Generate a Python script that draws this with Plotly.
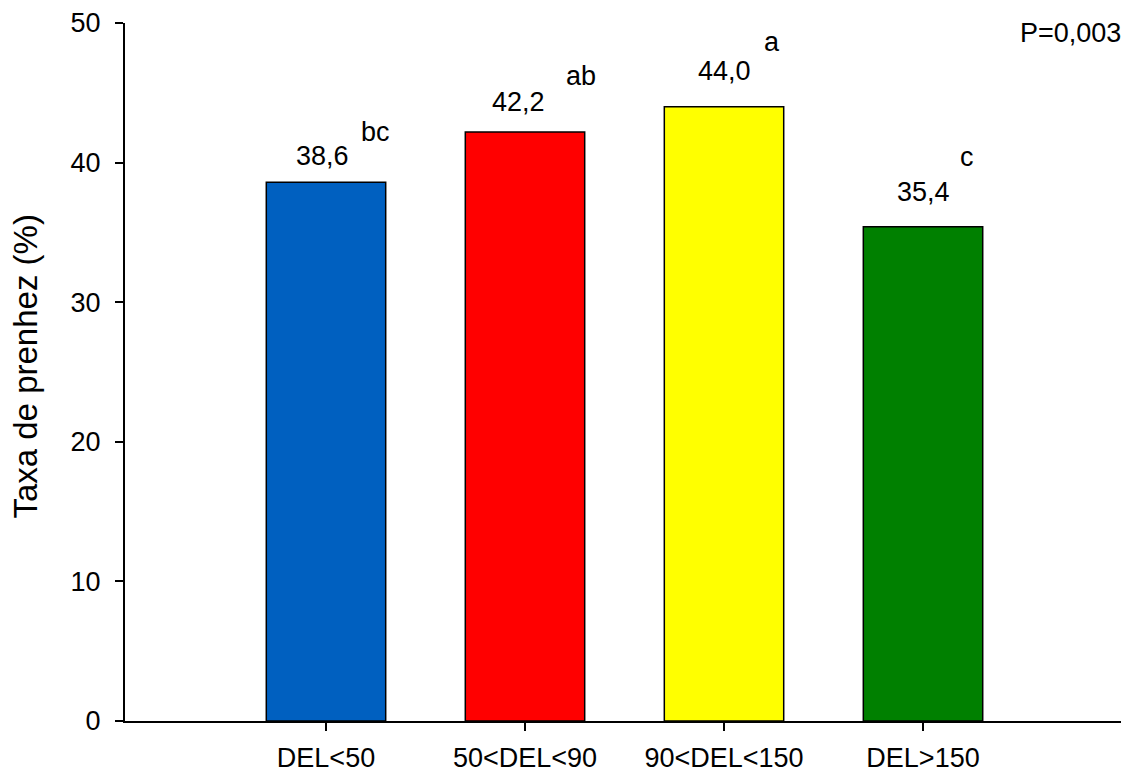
import plotly.graph_objects as go

categories = ["DEL<50", "50<DEL<90", "90<DEL<150", "DEL>150"]
values = [38.6, 42.2, 44.0, 35.4]
value_labels = ["38,6", "42,2", "44,0", "35,4"]
letters = ["bc", "ab", "a", "c"]
bar_colors = ["#0060C0", "#FF0000", "#FFFF00", "#008000"]
p_text = "P=0,003"

# label placement offsets (style)
label_dy = [1.87, 2.14, 2.56, 2.52]
label_dx = [-0.02, -0.035, 0.0, 0.0]
letter_dy = [3.6, 4.03, 4.65, 5.0]
letter_dx = [0.25, 0.28, 0.24, 0.22]

FONT = "Arial, Liberation Sans, sans-serif"
xs = list(range(len(categories)))

fig = go.Figure()
fig.add_trace(go.Bar(
    x=xs, y=values, width=0.6,
    marker=dict(color=bar_colors, line=dict(color="black", width=1.5)),
    showlegend=False, hoverinfo="skip",
))

for i, v in enumerate(values):
    fig.add_annotation(x=xs[i] + label_dx[i], y=v + label_dy[i], text=value_labels[i],
                       showarrow=False, xanchor="center", yanchor="middle",
                       font=dict(family=FONT, size=27, color="black"))
    fig.add_annotation(x=xs[i] + letter_dx[i], y=v + letter_dy[i], text=letters[i],
                       showarrow=False, xanchor="center", yanchor="middle",
                       font=dict(family=FONT, size=27, color="black"))

fig.add_annotation(xref="paper", yref="paper", x=-0.099, y=0.509, text="Taxa de prenhez (%)",
                   textangle=-90, showarrow=False, xanchor="center", yanchor="middle",
                   font=dict(family=FONT, size=33, color="black"))

fig.add_annotation(xref="paper", yref="paper", x=0.997, y=0.985, text=p_text,
                   showarrow=False, xanchor="right", yanchor="middle",
                   font=dict(family=FONT, size=27, color="black"))

fig.update_layout(
    width=1121, height=764,
    margin=dict(l=117, r=3, t=15, b=51, autoexpand=False),
    plot_bgcolor="white", paper_bgcolor="white",
    font=dict(family=FONT, size=27, color="black"),
    xaxis=dict(
        range=[-1.01, 4.02], tickmode="array", tickvals=xs, ticktext=categories,
        showline=True, linecolor="black", linewidth=2,
        ticks="outside", ticklen=8, tickwidth=1.5, tickcolor="black",
        ticklabelstandoff=4, automargin=False,
        showgrid=False, zeroline=False,
        tickfont=dict(family=FONT, size=27, color="black"),
    ),
    yaxis=dict(
        range=[0, 50], tickvals=[0, 10, 20, 30, 40, 50],
        showline=True, linecolor="black", linewidth=2,
        ticks="outside", ticklen=8, tickwidth=1.5, tickcolor="black",
        ticklabelstandoff=9, automargin=False,
        showgrid=False, zeroline=False,
        tickfont=dict(family=FONT, size=27, color="black"),
    ),
)

fig.write_html("out.html")
